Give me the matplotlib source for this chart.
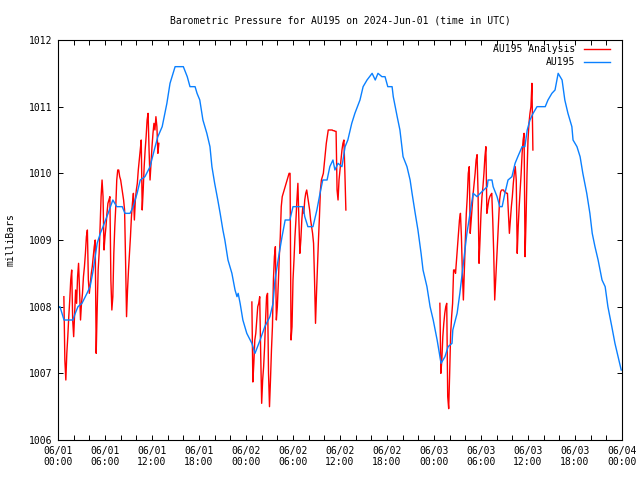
import numpy as np
import matplotlib
matplotlib.use('Agg')
import matplotlib.pyplot as plt
from matplotlib.lines import Line2D

plt.rcParams['font.family'] = ['DejaVu Sans Mono']
plt.rcParams['font.size'] = 7

# AU195 station observations (hours since 2024-06-01 00:00 UTC, mbar)
obs_hours = [0.0, 0.25, 0.77, 1.9, 2.2, 2.55, 3.06, 3.7, 4.1, 4.5, 5.0, 5.4, 5.75, 6.4, 7.0,
             7.5, 8.2, 8.55, 9.2, 9.6, 10.1, 10.5, 11.1, 11.75, 12.4, 12.75, 13.3, 13.65, 13.9,
             14.3, 14.95, 16.0, 16.5, 16.85, 17.5, 17.75, 18.1, 18.5, 19.0, 19.4, 19.65, 20.0,
             20.4, 20.7, 21.05, 21.3, 21.7, 22.2, 22.6, 22.85, 23.0, 23.25, 23.6, 24.1, 24.75,
             25.15, 25.8, 26.4, 27.05, 27.45, 27.7, 28.1, 28.6, 29.0, 29.6, 30.0, 31.3, 31.5,
             31.9, 32.55, 33.05, 33.45, 33.8, 34.35, 34.7, 35.1, 35.35, 35.75, 36.25, 36.65,
             37.0, 37.5, 37.9, 38.55, 38.95, 39.45, 40.1, 40.5, 40.85, 41.35, 41.75, 42.1,
             42.65, 42.8, 43.3, 43.65, 44.05, 44.55, 44.95, 45.2, 45.6, 45.95, 46.35, 46.6,
             47.1, 47.5, 47.9, 48.4, 48.9, 49.4, 49.8, 50.3, 50.4, 50.95, 51.3, 51.7, 52.2,
             52.6, 53.0, 53.5, 53.9, 54.8, 54.9, 55.4, 55.55, 56.05, 56.4, 56.7, 57.05, 57.45,
             57.95, 58.35, 58.7, 59.25, 59.6, 59.9, 60.25, 60.65, 61.15, 62.2, 62.55, 63.05,
             63.45, 63.85, 64.35, 64.7, 65.1, 65.6, 65.75, 66.25, 66.65, 67.0, 67.5, 67.9,
             68.2, 68.55, 68.95, 69.45, 69.85, 70.2, 70.7, 71.1, 71.5, 71.9]
obs_mbar = [1008.0, 1008.0, 1007.8, 1007.8, 1007.9, 1008.0, 1008.05, 1008.2, 1008.3, 1008.55,
            1008.95, 1009.1, 1009.2, 1009.4, 1009.6, 1009.5, 1009.5, 1009.4, 1009.4, 1009.5,
            1009.7, 1009.9, 1009.95, 1010.1, 1010.4, 1010.55, 1010.7, 1010.9, 1011.05, 1011.35,
            1011.6, 1011.6, 1011.45, 1011.3, 1011.3, 1011.2, 1011.1, 1010.8, 1010.6, 1010.4,
            1010.1, 1009.85, 1009.6, 1009.4, 1009.15, 1009.0, 1008.7, 1008.5, 1008.25, 1008.15,
            1008.2, 1008.05, 1007.8, 1007.6, 1007.45, 1007.3, 1007.5, 1007.7, 1007.85, 1008.05,
            1008.4, 1008.7, 1009.05, 1009.3, 1009.3, 1009.5, 1009.5, 1009.35, 1009.2, 1009.2,
            1009.45, 1009.7, 1009.9, 1009.9, 1010.1, 1010.2, 1010.05, 1010.15, 1010.1, 1010.4,
            1010.5, 1010.75, 1010.9, 1011.1, 1011.3, 1011.4, 1011.5, 1011.4, 1011.5, 1011.45,
            1011.45, 1011.3, 1011.3, 1011.15, 1010.85, 1010.65, 1010.25, 1010.1, 1009.9, 1009.7,
            1009.4, 1009.15, 1008.8, 1008.55, 1008.3, 1008.0, 1007.8, 1007.5, 1007.15, 1007.25,
            1007.4, 1007.45, 1007.65, 1007.9, 1008.2, 1008.6, 1009.1, 1009.4, 1009.7, 1009.65,
            1009.7, 1009.8, 1009.9, 1009.9, 1009.8, 1009.65, 1009.5, 1009.5, 1009.7, 1009.9,
            1009.95, 1010.15, 1010.25, 1010.4, 1010.4, 1010.65, 1010.8, 1010.9, 1011.0, 1011.0,
            1011.1, 1011.2, 1011.25, 1011.5, 1011.4, 1011.1, 1010.9, 1010.7, 1010.5, 1010.4,
            1010.25, 1010.0, 1009.7, 1009.4, 1009.1, 1008.9, 1008.7, 1008.4, 1008.3, 1008.0,
            1007.7, 1007.45, 1007.25, 1007.05]

# AU195 analysis, one run per day, 7.5 minute steps
ana_step = 0.125
ana_start = [0.75, 24.75, 48.75]
ana_day1 = [1008.15, 1007.2, 1006.9, 1007.3, 1007.55, 1007.85, 1008.1, 1008.4, 1008.55, 1007.8,
            1007.55, 1007.9, 1008.25, 1008.05, 1008.45, 1008.65, 1008.25, 1007.8, 1008.05, 1008.2,
            1008.45, 1008.6, 1008.8, 1009.05, 1009.15, 1008.4, 1008.2, 1008.35, 1008.5, 1008.6,
            1008.75, 1008.9, 1009.0, 1007.3, 1007.95, 1008.55, 1008.8, 1009.2, 1009.65, 1009.9,
            1009.65, 1008.85, 1009.05, 1009.2, 1009.4, 1009.55, 1009.6, 1009.65, 1008.4, 1007.95,
            1008.15, 1008.8, 1009.2, 1009.5, 1009.9, 1010.05, 1010.05, 1009.95, 1009.9, 1009.8,
            1009.7, 1009.6, 1009.45, 1008.7, 1007.85, 1008.25, 1008.55, 1008.8, 1009.05, 1009.35,
            1009.55, 1009.7, 1009.3, 1009.6, 1009.75, 1009.85, 1010.05, 1010.2, 1010.35, 1010.5,
            1009.45, 1009.75, 1010.1, 1010.35, 1010.55, 1010.8, 1010.9, 1010.35, 1009.9, 1010.15,
            1010.4, 1010.6, 1010.75, 1010.65, 1010.85, 1010.7, 1010.3, 1010.45]
ana_day2 = [1008.07, 1006.87, 1007.15, 1007.5, 1007.6, 1007.8, 1008.0, 1008.05, 1008.15, 1007.3,
            1006.55, 1006.9, 1007.1, 1007.4, 1007.8, 1008.15, 1008.2, 1007.0, 1006.5, 1006.9,
            1007.35, 1007.7, 1008.4, 1008.75, 1008.9, 1007.8, 1008.0, 1008.35, 1008.75, 1009.05,
            1009.5, 1009.65, 1009.7, 1009.75, 1009.8, 1009.85, 1009.9, 1009.95, 1010.0, 1010.0,
            1007.5, 1007.7, 1008.4, 1008.7, 1009.05, 1009.3, 1009.6, 1009.85, 1009.3, 1008.8,
            1009.0, 1009.3, 1009.5, 1009.4, 1009.6, 1009.7, 1009.75, 1009.65, 1009.55, 1009.45,
            1009.3, 1009.2, 1009.1, 1008.95, 1008.4, 1007.75, 1008.2, 1008.6, 1009.0, 1009.35,
            1009.75, 1009.9, 1009.95, 1010.0, 1010.15, 1010.3, 1010.45, 1010.55, 1010.65, 1010.65,
            1010.65, 1010.65, 1010.65, 1010.64, 1010.64, 1010.63, 1010.63, 1009.75, 1009.6, 1009.9,
            1010.05, 1010.2, 1010.35, 1010.45, 1010.5, 1010.0, 1009.45]
ana_day3 = [1008.05, 1007.0, 1007.2, 1007.55, 1007.75, 1007.9, 1008.0, 1008.05, 1006.65, 1006.47,
            1007.0, 1007.6, 1007.85, 1008.05, 1008.55, 1008.55, 1008.5, 1008.7, 1008.9, 1009.1,
            1009.3, 1009.4, 1009.05, 1008.5, 1008.1, 1008.55, 1009.0, 1009.4, 1009.65, 1010.0,
            1010.1, 1009.1, 1009.3, 1009.5, 1009.7, 1009.85, 1010.0, 1010.2, 1010.28, 1009.7,
            1008.65, 1009.0, 1009.4, 1009.65, 1009.8, 1010.0, 1010.25, 1010.4, 1009.4, 1009.5,
            1009.6, 1009.65, 1009.68, 1009.7, 1009.3, 1008.8, 1008.1, 1008.4, 1008.7, 1009.0,
            1009.3, 1009.6, 1009.72, 1009.75, 1009.75, 1009.75, 1009.72, 1009.72, 1009.7, 1009.7,
            1009.4, 1009.1, 1009.3, 1009.5, 1009.65, 1009.85, 1010.0, 1010.1, 1009.9, 1008.8,
            1009.2, 1009.5, 1009.75, 1010.0, 1010.3, 1010.5, 1010.6, 1008.75, 1009.3, 1010.0,
            1010.5, 1010.75, 1010.9, 1011.0, 1011.35, 1010.35]

tick_hours = [0, 6, 12, 18, 24, 30, 36, 42, 48, 54, 60, 66, 72]
tick_labels = ['06/01\n00:00', '06/01\n06:00', '06/01\n12:00', '06/01\n18:00',
               '06/02\n00:00', '06/02\n06:00', '06/02\n12:00', '06/02\n18:00',
               '06/03\n00:00', '06/03\n06:00', '06/03\n12:00', '06/03\n18:00',
               '06/04\n00:00']

RED = '#ff0000'
BLUE = '#0a80ff'

fig = plt.figure(figsize=(6.4, 4.8), dpi=100)
ax = fig.add_axes([58 / 640, 40 / 480, 564 / 640, 400 / 480])

# analysis segments, one per day, drawn as separate pieces
for start, vals in zip(ana_start, [ana_day1, ana_day2, ana_day3]):
    t = start + ana_step * np.arange(len(vals))
    ax.plot(t, vals, color=RED, lw=1.0)
ax.plot(obs_hours, obs_mbar, color=BLUE, lw=1.0)

ax.set_xlim(0, 72)
ax.set_ylim(1006, 1012)
ax.set_xticks(tick_hours)
ax.set_xticklabels(tick_labels)
ax.set_xticks(np.arange(0, 73, 2), minor=True)
ax.set_yticks(np.arange(1006, 1013, 1))
ax.tick_params(which='both', direction='in', top=True, right=True, length=3.5,
               width=0.7, labelsize=7, pad=4)
for s in ax.spines.values():
    s.set_linewidth(0.8)

ax.set_ylabel('milliBars', fontsize=7, labelpad=10)
ax.set_title('Barometric Pressure for AU195 on 2024-Jun-01 (time in UTC)', fontsize=7, pad=12)

# gnuplot style key: text right aligned, sample on the right
for i, (lab, col) in enumerate([('AU195 Analysis', RED), ('AU195', BLUE)]):
    y = 0.9775 - i * 0.0325
    ax.text(0.917, y, lab, transform=ax.transAxes, ha='right', va='center', fontsize=7)
    ax.add_line(Line2D([0.933, 0.979], [y, y], transform=ax.transAxes, color=col, lw=1.0))

plt.savefig('out.png', dpi=100)
